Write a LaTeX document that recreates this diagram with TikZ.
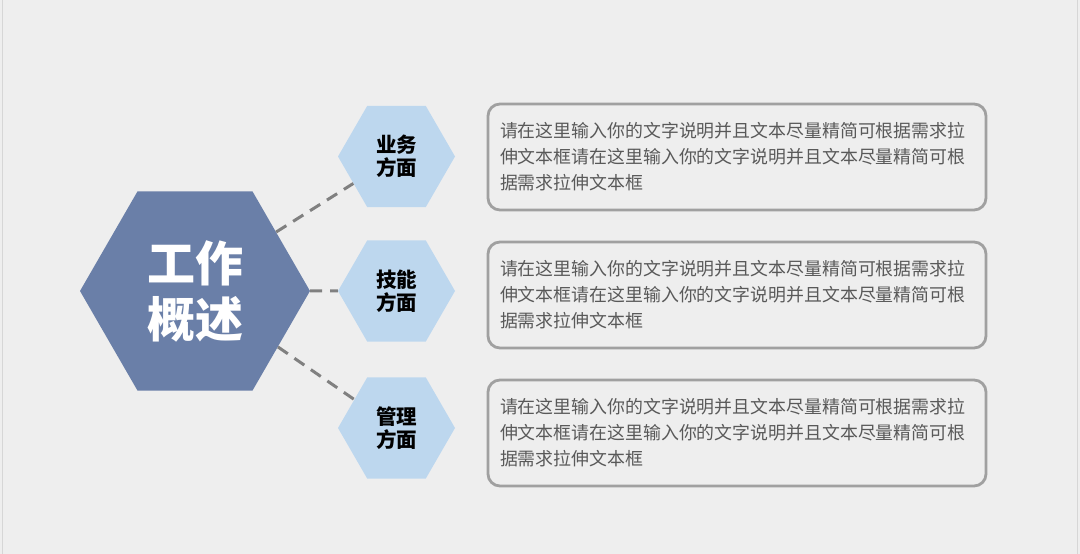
\documentclass[tikz,border=0pt]{standalone}
\usepackage{fontspec}
\newfontfamily\cjk{Noto Sans CJK SC}
\usetikzlibrary{shapes.geometric}
\definecolor{bgc}{HTML}{EEEEEE}
\definecolor{edgegray}{HTML}{D6D6D6}
\definecolor{navyhex}{HTML}{6A7FA8}
\definecolor{lighthex}{HTML}{BDD7EE}
\definecolor{boxgray}{HTML}{A0A0A0}
\definecolor{dashgray}{HTML}{808080}
\definecolor{txtgray}{HTML}{595959}

\begin{document}
\begin{tikzpicture}[x=1pt, y=1pt,
    hexbig/.style={regular polygon, regular polygon sides=6, minimum size=230pt, inner sep=0pt, fill=navyhex, text=white, align=center, font=\cjk\bfseries\fontsize{48}{56}\selectfont},
    hexsmall/.style={regular polygon, regular polygon sides=6, minimum size=117pt, inner sep=0pt, fill=lighthex, text=black, align=center, font=\cjk\bfseries\fontsize{20.5}{23}\selectfont},
    textbox/.style={draw=boxgray, line width=2.8pt, rounded corners=12pt, fill=bgc, minimum width=498pt, minimum height=106pt, text width=474pt, align=left, text=txtgray, font=\cjk\fontsize{17.9}{26}\selectfont},
    link/.style={draw=dashgray, line width=3pt, dash pattern=on 12pt off 8pt},
]
\fill[bgc] (0,0) rectangle (1080,554);
\useasboundingbox (0,0) rectangle (1080,554);
\draw[edgegray, line width=1.5pt] (2.5,0) -- (2.5,554);
\draw[edgegray, line width=1.5pt] (1077.5,0) -- (1077.5,554);

\node[hexbig] (main) at (195,263) {工作\\概述};
\node[hexsmall] (biz) at (396.5,397.5) {业务\\方面};
\node[hexsmall] (skill) at (396.5,263) {技能\\方面};
\node[hexsmall] (mgmt) at (396.5,126) {管理\\方面};

\draw[link] (main.36) -- (biz.212);
\draw[link] (main.east) -- (skill.west);
\draw[link] (main.-34) -- (mgmt.146);

\node[textbox] (bizbox) at (737,397) {请在这里输入你的文字说明并且文本尽量精简可根据需求拉\\伸文本框请在这里输入你的文字说明并且文本尽量精简可根\\据需求拉伸文本框};
\node[textbox] (skillbox) at (737,259) {请在这里输入你的文字说明并且文本尽量精简可根据需求拉\\伸文本框请在这里输入你的文字说明并且文本尽量精简可根\\据需求拉伸文本框};
\node[textbox] (mgmtbox) at (737,121) {请在这里输入你的文字说明并且文本尽量精简可根据需求拉\\伸文本框请在这里输入你的文字说明并且文本尽量精简可根\\据需求拉伸文本框};
\end{tikzpicture}
\end{document}
